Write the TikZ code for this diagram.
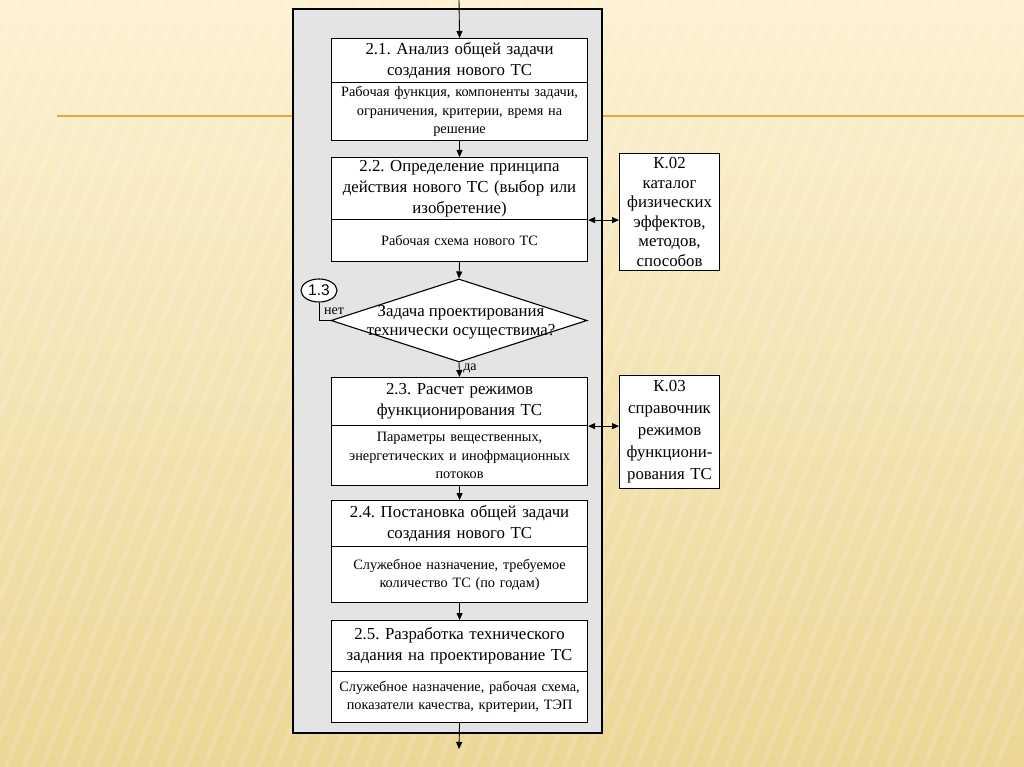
\documentclass[tikz,border=0pt]{standalone}
\usepackage{fontspec}
\setmainfont{Liberation Serif}
\newfontfamily\arialf{Liberation Sans}
\usetikzlibrary{arrows.meta,shapes.geometric,calc}
\definecolor{bgtop}{HTML}{FCF2D2}
\definecolor{bgbot}{HTML}{ECD696}
\definecolor{orangeline}{HTML}{E9A53C}
\definecolor{framegray}{HTML}{E4E4E4}
\frenchspacing
\begin{document}
\begin{tikzpicture}[x=1pt,y=-1pt,
  titlef/.style={font=\fontsize{16.8}{21}\selectfont},
  subf/.style={font=\fontsize{14.3}{18.3}\selectfont},
  box/.style={draw, fill=white, line width=1.1pt, minimum width=256pt, inner sep=2pt,
    text width=252pt, align=center, anchor=north west},
  kbox/.style={draw, fill=white, line width=1.1pt, minimum width=100pt, inner sep=1pt,
    text width=98pt, align=center, anchor=north west, font=\fontsize{16.8}{19.5}\selectfont},
  arr/.style={line width=0.9pt, -{Triangle[length=7pt,width=6pt]}},
  darr/.style={line width=0.9pt, {Triangle[length=7pt,width=6pt]}-{Triangle[length=7pt,width=6pt]}},
  lbl/.style={font=\fontsize{14}{15}\selectfont, inner sep=0pt}
]
\useasboundingbox (0,0) rectangle (1024,767);
% background
\shade[top color=bgtop, bottom color=bgbot] (0,0) rectangle (1024,767);
\foreach \i in {0,18,...,1300}{
  \draw[white, opacity=0.15, line width=5pt] (\i-300,767) -- (\i,0);
}
\draw[orangeline, line width=2pt] (57,116) -- (1024,116);
% frame
\draw[fill=framegray, line width=2.5pt] (293,9) rectangle (602,733);

% boxes
\node[box, titlef, minimum height=44pt] (b21t) at (331,38) {2.1. Анализ общей задачи\\создания нового ТС};
\node[box, subf, minimum height=58pt] (b21b) at (331,82) {Рабочая функция, компоненты задачи,\\ограничения, критерии, время на\\решение};

\node[box, titlef, minimum height=62pt] (b22t) at (331,157) {2.2. Определение принципа\\действия нового ТС (выбор или\\изобретение)};
\node[box, subf, minimum height=42pt] (b22b) at (331,219) {Рабочая схема нового ТС};

\node[draw, fill=white, line width=1.1pt, shape=diamond, minimum width=256pt, minimum height=83pt, inner sep=0pt] (dia) at (459,320.5) {};
\node[font=\fontsize{16.8}{19}\selectfont, align=center, inner sep=0pt] (diat) at (461,322) {Задача проектирования\\технически осуществима?};

\node[draw, ellipse, line width=1.1pt, fill=white, minimum width=36pt, minimum height=23pt, inner sep=0pt, font=\arialf\fontsize{15.5}{16}\selectfont] (n13) at (319,290.5) {1.3};
\node[lbl] (net) at (334,311) {нет};
\node[lbl] (da) at (470,369) {да};

\node[box, titlef, minimum height=48pt] (b23t) at (331,377) {2.3. Расчет режимов\\функционирования ТС};
\node[box, subf, minimum height=60pt] (b23b) at (331,425) {Параметры вещественных,\\энергетических и инофрмационных\\потоков};

\node[box, titlef, minimum height=46pt] (b24t) at (331,500) {2.4. Постановка общей задачи\\создания нового ТС};
\node[box, subf, minimum height=56pt] (b24b) at (331,546) {Служебное назначение, требуемое\\количество ТС (по годам)};

\node[box, titlef, minimum height=51pt] (b25t) at (331,620) {2.5. Разработка технического\\задания на проектирование ТС};
\node[box, subf, minimum height=51pt] (b25b) at (331,671) {Служебное назначение, рабочая схема,\\показатели качества, критерии, ТЭП};

\node[kbox, minimum height=117pt] (k02) at (619,153) {К.02\\каталог\\физических\\эффектов,\\методов,\\способов};
\node[kbox, minimum height=113pt, font=\fontsize{16.8}{22}\selectfont] (k03) at (619,375) {К.03\\справочник\\режимов\\функциони-\\рования ТС};

% connectors
\coordinate (top) at (459,0);
\coordinate (bot) at (459,749);
\draw[arr] (top) -- (b21t.north);
\draw[arr] (b21b.south) -- (b22t.north);
\draw[arr] (b22b.south) -- (dia.north);
\draw[arr] (dia.south) -- (b23t.north);
\draw[arr] (b23b.south) -- (b24t.north);
\draw[arr] (b24b.south) -- (b25t.north);
\draw[arr] (b25b.south) -- (bot);
\draw[darr] (b22t.south east) -- (b22t.south east -| k02.west);
\draw[darr] (b23t.south east) -- (b23t.south east -| k03.west);
\draw[line width=0.9pt] (dia.west) -- (dia.west -| n13.south) -- (n13.south);
\end{tikzpicture}
\end{document}
